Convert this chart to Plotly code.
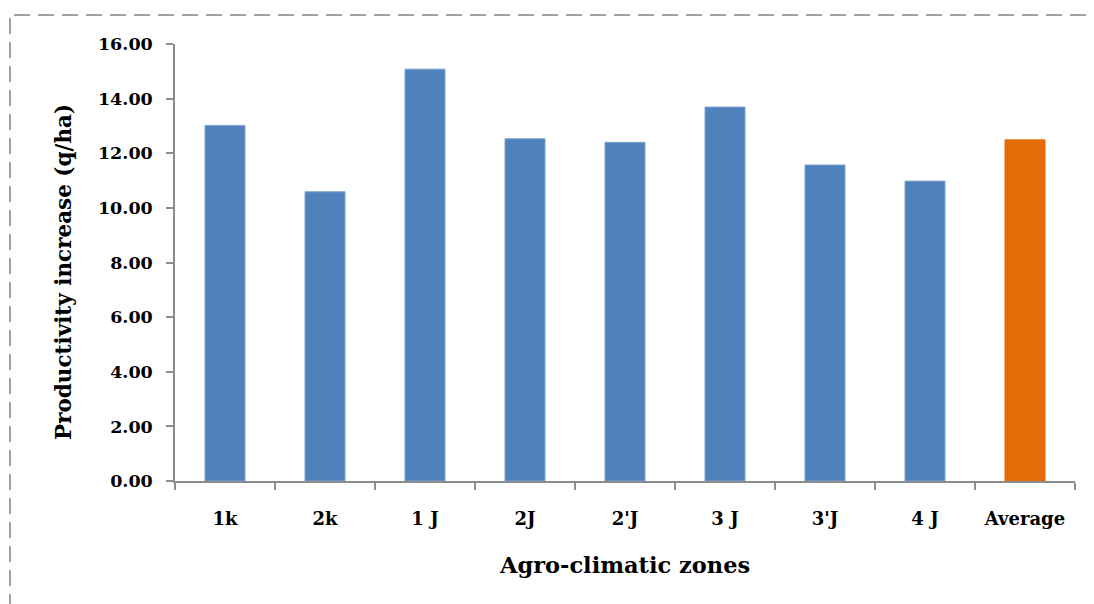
import plotly.graph_objects as go

# Productivity increase per agro-climatic zone (q/ha)
zones = ["1k", "2k", "1 J", "2J", "2'J", "3 J", "3'J", "4 J", "Average"]
increase = [13.02, 10.59, 15.08, 12.53, 12.40, 13.69, 11.57, 10.98, 12.49]
bar_colors = ["#4F81BD"] * 8 + ["#E36C09"]
edge_colors = ["#7FA3CF"] * 8 + ["#E36C09"]
y_ticks = [0, 2, 4, 6, 8, 10, 12, 14, 16]

FONT = "DejaVu Serif"
AXIS_GREY = "#8C8C8C"
BORDER_GREY = "#A0A0A0"

# plot area in pixels
L, R, T, B = 175, 19, 44, 123
W, H = 1094, 604
pw, ph = W - L - R, H - T - B


def px(x):
    return (x - L) / pw


def py(y):
    return (H - B - y) / ph


fig = go.Figure(
    go.Bar(
        x=zones,
        y=increase,
        width=0.4,
        marker=dict(color=bar_colors, line=dict(color=edge_colors, width=1)),
    )
)

fig.update_layout(
    width=W,
    height=H,
    margin=dict(l=L, r=R, t=T, b=B),
    paper_bgcolor="white",
    plot_bgcolor="white",
    showlegend=False,
    font=dict(family=FONT, color="black"),
    xaxis=dict(
        type="category",
        range=[-0.5, 8.5],
        showline=True,
        linecolor=AXIS_GREY,
        linewidth=1.5,
        ticks="outside",
        tickson="boundaries",
        ticklen=7,
        tickwidth=1.5,
        tickcolor=AXIS_GREY,
        tickfont=dict(family=FONT, size=18, color="black", weight="bold"),
        ticklabelstandoff=21,
        showgrid=False,
        zeroline=False,
    ),
    yaxis=dict(
        range=[0, 16],
        tickvals=y_ticks,
        ticktext=[f"{v:.2f}" for v in y_ticks],
        showline=True,
        linecolor=AXIS_GREY,
        linewidth=1.5,
        ticks="outside",
        ticklen=7,
        tickwidth=1.5,
        tickcolor=AXIS_GREY,
        tickfont=dict(family=FONT, size=17.5, color="black", weight="bold"),
        ticklabelstandoff=10,
        showgrid=False,
        zeroline=False,
    ),
    annotations=[
        dict(
            text="<b>Productivity increase (q/ha)</b>",
            xref="paper", yref="paper",
            x=px(63), y=py(272),
            textangle=-90,
            showarrow=False,
            font=dict(family=FONT, size=21.5, color="black"),
            xanchor="center", yanchor="middle",
        ),
        dict(
            text="<b>Agro-climatic zones</b>",
            xref="paper", yref="paper",
            x=px(624), y=py(565),
            showarrow=False,
            font=dict(family=FONT, size=22.5, color="black"),
            xanchor="center", yanchor="middle",
        ),
    ],
    shapes=[
        dict(
            type="line", xref="paper", yref="paper",
            x0=px(14), x1=px(1100), y0=py(15), y1=py(15),
            line=dict(color=BORDER_GREY, width=2, dash="16px,8px"),
        ),
        dict(
            type="line", xref="paper", yref="paper",
            x0=px(10), x1=px(10), y0=py(18), y1=py(610),
            line=dict(color=BORDER_GREY, width=2, dash="16px,8px"),
        ),
    ],
)

fig.write_html("out.html")
